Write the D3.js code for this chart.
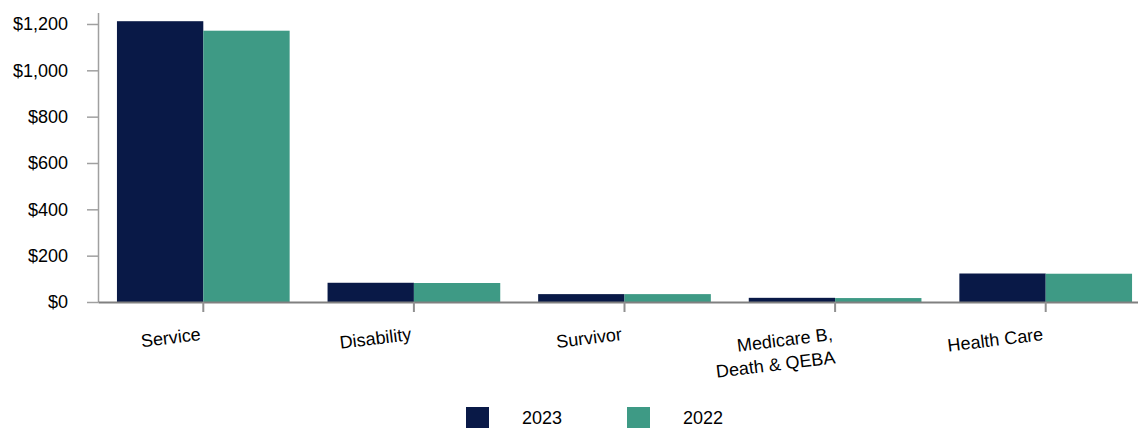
<!DOCTYPE html>
<html>
<head>
<meta charset="utf-8">
<script src="https://cdn.jsdelivr.net/npm/d3@7"></script>
<style>
  body { margin: 0; background: #fff; }
  svg { display: block; font-family: "Liberation Sans", Arial, sans-serif; }
</style>
</head>
<body>
<div id="wrapper"></div>
<script>
const categories = ["Service", "Disability", "Survivor", "Medicare B,\nDeath & QEBA", "Health Care"]
const seriesNames = ["2023", "2022"]
const values2023 = [1212, 83, 34, 18, 123]
const values2022 = [1171, 82, 34, 17, 122]
const yTicks = [0, 200, 400, 600, 800, 1000, 1200]

const colors = ["#091947", "#3e9a85"]

function draw() {
  const dataset = categories.map((c, i) => ({
    category: c,
    values: [values2023[i], values2022[i]],
  }))

  // dimensions
  let dimensions = {
    width: 1138,
    height: 428,
    margin: { top: 12.4, left: 98 },
    baseline: 302,
    plotRight: 1151,
  }

  const wrapper = d3.select("#wrapper")
    .append("svg")
    .attr("width", dimensions.width)
    .attr("height", dimensions.height)

  // scales
  const xScale = d3.scaleBand()
    .domain(categories)
    .range([dimensions.margin.left, dimensions.plotRight])
    .paddingInner(0.18)
    .paddingOuter(0.09)

  const seriesScale = d3.scaleBand()
    .domain(seriesNames)
    .range([0, xScale.bandwidth()])

  const yScale = d3.scaleLinear()
    .domain([0, 1250])
    .range([dimensions.baseline, dimensions.margin.top])

  // bars
  const groups = wrapper.append("g")
    .selectAll("g")
    .data(dataset)
    .join("g")
    .attr("transform", d => `translate(${xScale(d.category)},0)`)

  groups.selectAll("rect")
    .data(d => d.values.map((v, i) => ({ series: seriesNames[i], value: v, i })))
    .join("rect")
    .attr("x", d => seriesScale(d.series))
    .attr("width", seriesScale.bandwidth())
    .attr("y", d => yScale(d.value))
    .attr("height", d => yScale(0) - yScale(d.value))
    .attr("fill", d => colors[d.i])

  // y axis
  const yAxis = wrapper.append("g")
    .attr("transform", `translate(${dimensions.margin.left},0)`)
    .call(d3.axisLeft(yScale)
      .tickValues(yTicks)
      .tickSize(11)
      .tickSizeOuter(0)
      .tickPadding(19)
      .tickFormat(d => "$" + d3.format(",")(d)))
  yAxis.select(".domain").attr("stroke", "#a0a0a0").attr("stroke-width", 1.5)
  yAxis.selectAll(".tick line").attr("stroke", "#a0a0a0").attr("stroke-width", 1.5)
  yAxis.selectAll(".tick text")
    .attr("font-size", 18)
    .attr("font-family", "Liberation Sans, Arial, sans-serif")
    .attr("fill", "#000")

  // x axis
  const xAxis = wrapper.append("g")
    .attr("transform", `translate(0,${dimensions.baseline})`)
    .call(d3.axisBottom(xScale)
      .tickSize(10)
      .tickSizeOuter(0)
      .tickFormat(""))
  xAxis.select(".domain").attr("stroke", "#808080").attr("stroke-width", 2)
  xAxis.selectAll(".tick line").attr("stroke", "#909090").attr("stroke-width", 2)

  // category labels, slightly tilted
  const labels = wrapper.append("g")
    .selectAll("text")
    .data(categories)
    .join("text")
    .attr("transform", d => `translate(${xScale(d) + xScale.bandwidth() / 2 - 2},340) rotate(-7)`)
    .attr("text-anchor", "end")
    .attr("font-size", 18)
    .attr("fill", "#000")

  labels.selectAll("tspan")
    .data(d => d.split("\n"))
    .join("tspan")
    .attr("x", 0)
    .attr("dy", (d, i) => i === 0 ? 0 : "1.3em")
    .text(d => d)

  // legend
  const legend = wrapper.append("g")
    .selectAll("g")
    .data(seriesNames)
    .join("g")
    .attr("transform", (d, i) => `translate(${466 + i * 161},407)`)

  legend.append("rect")
    .attr("width", 23)
    .attr("height", 21)
    .attr("fill", (d, i) => colors[i])

  legend.append("text")
    .attr("x", 56)
    .attr("y", 17)
    .attr("font-size", 18)
    .attr("fill", "#000")
    .text(d => d)
}

draw()
</script>
</body>
</html>
